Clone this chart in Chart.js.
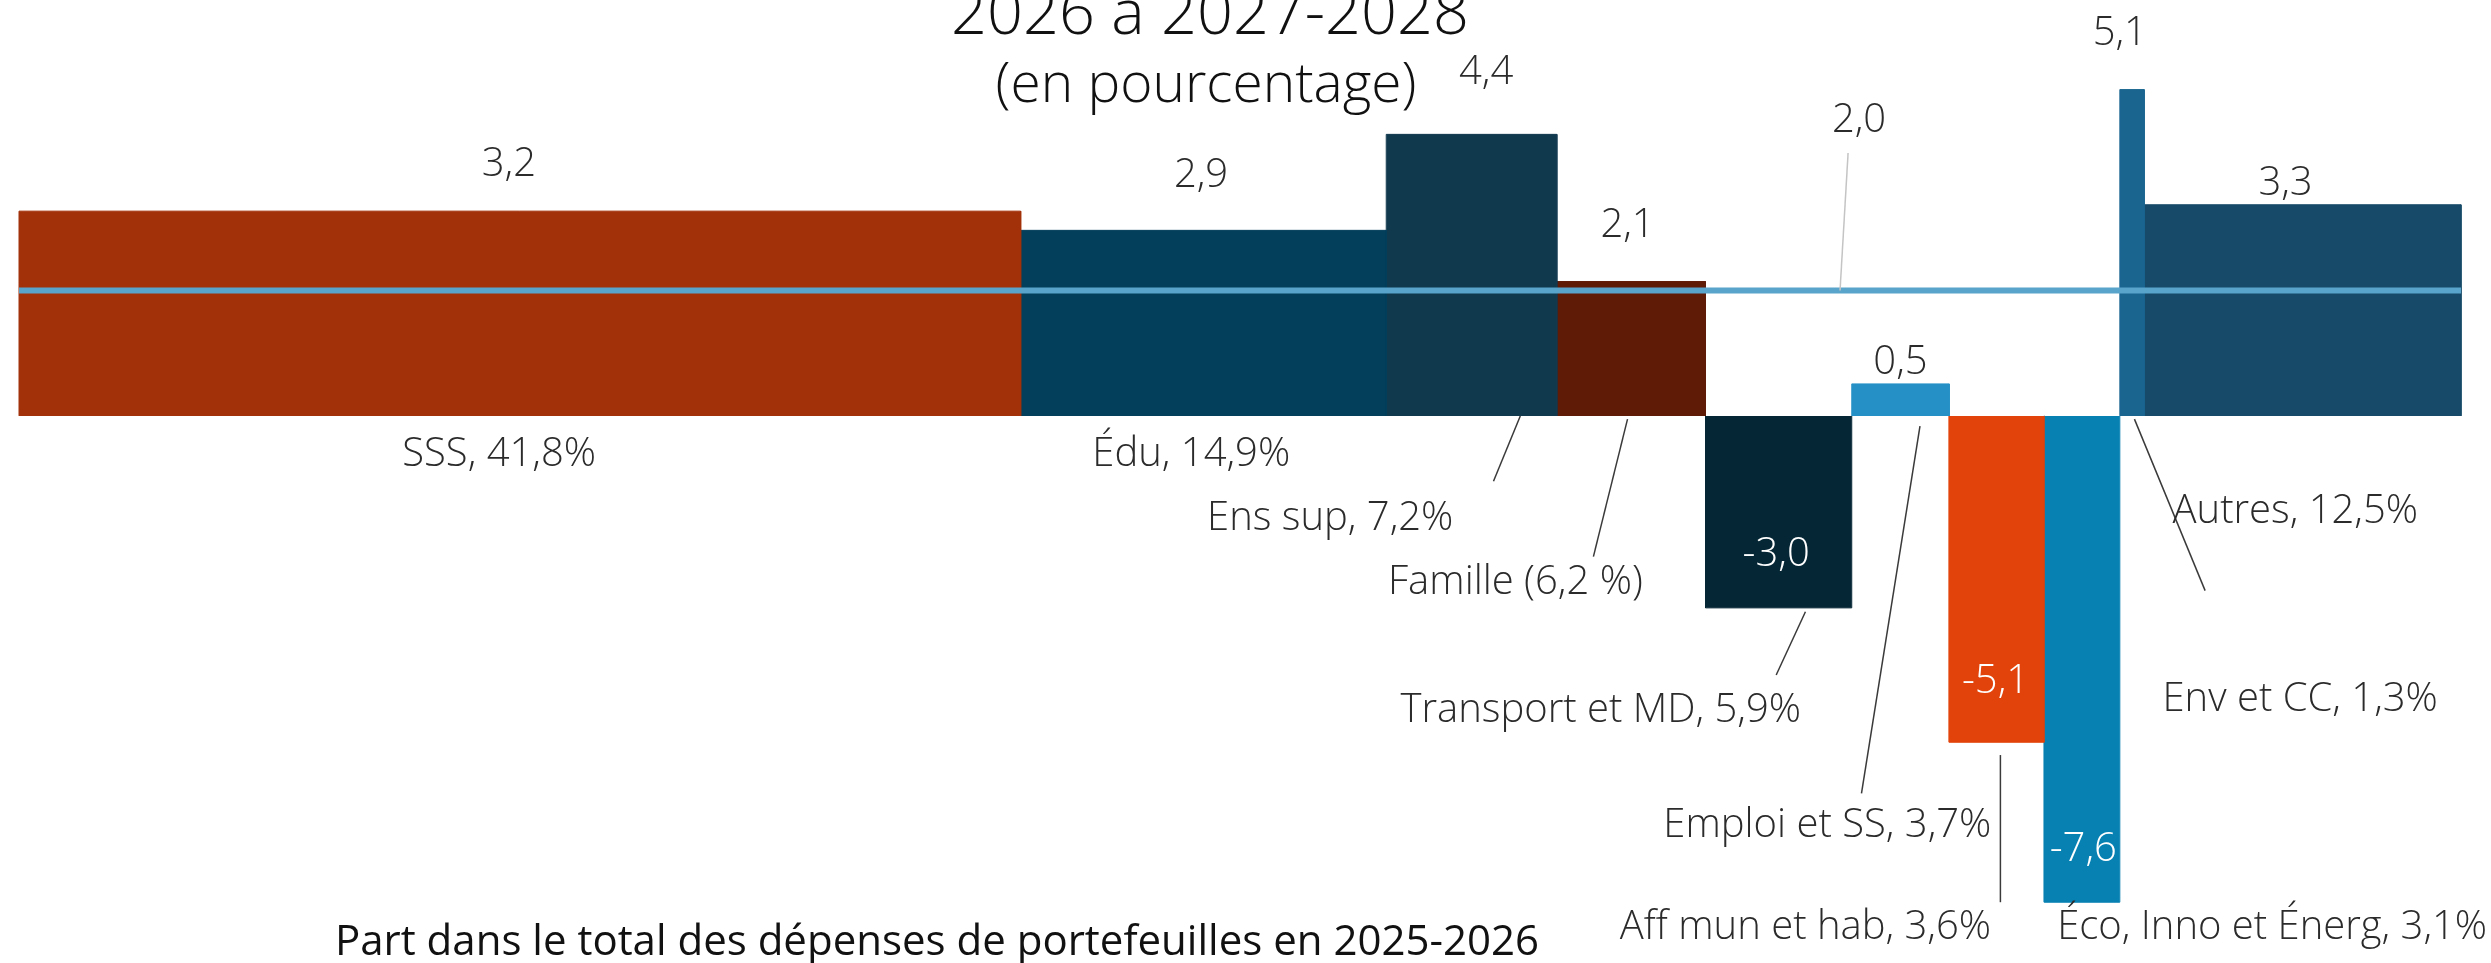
<!DOCTYPE html>
<html lang="fr">
<head>
<meta charset="utf-8">
<title>Croissance des dépenses de portefeuilles</title>
<script src="https://cdn.jsdelivr.net/npm/chart.js@4/dist/chart.umd.min.js"></script>
<style>
    html, body { margin: 0; padding: 0; background: #fff; }
    canvas { display: block; }
</style>
</head>
<body>
<canvas id="graph" width="2491" height="963"></canvas>
<script>
    // Données
    const categories = ['SSS', 'Édu', 'Ens sup', 'Famille', 'Transport et MD', 'Emploi et SS', 'Aff mun et hab', 'Éco, Inno et Énerg', 'Env et CC', 'Autres'];
    const etiquettes = ['SSS, 41,8%', 'Édu, 14,9%', 'Ens sup, 7,2%', 'Famille (6,2 %)', 'Transport et MD, 5,9%', 'Emploi et SS, 3,7%', 'Aff mun et hab, 3,6%', 'Éco, Inno et Énerg, 3,1%', 'Env et CC, 1,3%', 'Autres, 12,5%'];
    // part dans le total (largeur des barres telle que dessinée)
    const largeurs = [41.1, 15.0, 7.0, 6.1, 6.0, 4.0, 3.9, 3.1, 1.0, 13.0];
    // croissance annuelle moyenne (hauteur des barres)
    const croissance = [3.2, 2.9, 4.4, 2.1, -3.0, 0.5, -5.1, -7.6, 5.1, 3.3];
    const moyenne = 1.96; // affichée 2,0

    const couleurs = ['#A2310A', '#033F5B', '#11394E', '#601B06', '#052635', '#2590C6', '#E2430A', '#0780B2', '#1A6590', '#174A69'];

    // placement des textes (en unités des axes) : valeur, catégorie, trait de rappel
    const placement = [
        { val: [20.1, 3.92], cat: [19.7, -0.6] },
        { val: [48.5, 3.75], cat: [48.1, -0.6] },
        { val: [60.2, 5.36], cat: [53.8, -1.6], trait: [61.6, 0, 60.5, -1.02] },
        { val: [66.0, 2.97], cat: [61.4, -2.6], trait: [66.0, -0.05, 64.6, -2.2] },
        { val: [72.1, -2.16], cat: [64.9, -4.6], trait: [73.3, -3.06, 72.1, -4.05], blanc: true },
        { val: [77.2, 0.84], cat: [74.2, -6.4], trait: [78.0, -0.16, 75.6, -5.9] },
        { val: [81.1, -4.16], cat: [73.3, -8.0], trait: [81.3, -5.3, 81.3, -7.6], blanc: true },
        { val: [84.7, -6.78], cat: [92.45, -8.0], blanc: true },
        { val: [86.2, 5.98], cat: [93.6, -4.44], trait: [86.8, -0.05, 89.7, -2.73] },
        { val: [93.0, 3.63], cat: [93.4, -1.5] }
    ];

    const police = '"Open Sans", "DejaVu Sans", sans-serif';

    function fmt(v) {
        return v.toFixed(1).replace('.', ',');
    }

    // Une barre = un polygone rempli jusqu'à zéro
    const datasets = [];
    datasets.push({
        label: 'Moyenne',
        data: [{ x: 0, y: moyenne }, { x: largeurs.reduce((a, b) => a + b, 0), y: moyenne }],
        borderColor: '#58A4CB',
        borderWidth: 6,
        pointRadius: 0,
        fill: false
    });
    let debut = 0;
    categories.forEach((cat, i) => {
        const fin = debut + largeurs[i];
        const v = croissance[i];
        datasets.push({
            label: cat,
            data: [{ x: debut, y: 0 }, { x: debut, y: v }, { x: fin, y: v }, { x: fin, y: 0 }],
            backgroundColor: couleurs[i],
            borderColor: couleurs[i],
            borderWidth: 1,
            pointRadius: 0,
            tension: 0,
            fill: 'origin'
        });
        debut = fin;
    });

    const textes = {
        id: 'textes',
        afterDraw(chart) {
            const ctx = chart.ctx;
            const sx = chart.scales.x, sy = chart.scales.y;
            const px = v => sx.getPixelForValue(v);
            const py = v => sy.getPixelForValue(v);
            ctx.save();
            ctx.textAlign = 'center';
            ctx.textBaseline = 'middle';

            // traits de rappel
            ctx.strokeStyle = '#3a3a3a';
            ctx.lineWidth = 1.5;
            placement.forEach(p => {
                if (!p.trait) return;
                ctx.beginPath();
                ctx.moveTo(px(p.trait[0]), py(p.trait[1]));
                ctx.lineTo(px(p.trait[2]), py(p.trait[3]));
                ctx.stroke();
            });
            // trait de la moyenne
            ctx.strokeStyle = '#c4c4c4';
            ctx.beginPath();
            ctx.moveTo(px(75.05), py(4.11));
            ctx.lineTo(px(74.72), py(moyenne));
            ctx.stroke();

            ctx.font = '300 40px ' + police;
            categories.forEach((cat, i) => {
                const p = placement[i];
                ctx.fillStyle = p.blanc ? '#ffffff' : '#2b2b2b';
                ctx.fillText(fmt(croissance[i]), px(p.val[0]), py(p.val[1]));
                ctx.fillStyle = '#2b2b2b';
                ctx.fillText(etiquettes[i], px(p.cat[0]), py(p.cat[1]));
            });
            ctx.fillStyle = '#2b2b2b';
            ctx.fillText(fmt(moyenne), px(75.5), py(4.61));

            // titre (coupé en haut) et titre de l'axe
            ctx.fillStyle = '#111111';
            ctx.font = '300 63px ' + police;
            ctx.textBaseline = 'alphabetic';
            ctx.fillText('2026 à 2027-2028', 1210, 34);
            ctx.font = '300 55px ' + police;
            ctx.fillText('(en pourcentage)', 1206, 102);
            ctx.font = '400 42px ' + police;
            ctx.fillText('Part dans le total des dépenses de portefeuilles en 2025-2026', 937, 955);
            ctx.restore();
        }
    };

    new Chart(document.getElementById('graph').getContext('2d'), {
        type: 'line',
        data: { datasets },
        options: {
            responsive: false,
            animation: false,
            layout: { padding: 0 },
            plugins: {
                legend: { display: false },
                tooltip: { enabled: false }
            },
            scales: {
                x: { type: 'linear', display: false, min: -0.78, max: 101.43 },
                y: { type: 'linear', display: false, min: -8.55, max: 6.5 }
            }
        },
        plugins: [textes]
    });
</script>
</body>
</html>
